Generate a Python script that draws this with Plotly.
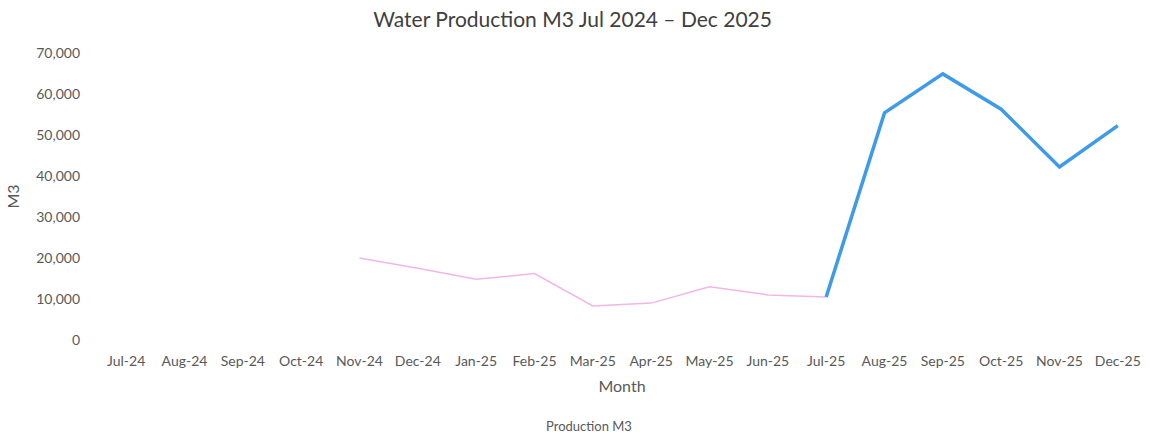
import plotly.graph_objects as go

months = ["Jul-24", "Aug-24", "Sep-24", "Oct-24", "Nov-24", "Dec-24", "Jan-25", "Feb-25",
          "Mar-25", "Apr-25", "May-25", "Jun-25", "Jul-25", "Aug-25", "Sep-25", "Oct-25",
          "Nov-25", "Dec-25"]
production = [None, None, None, None, 20000, 17500, 14800, 16200,
              8300, 9000, 13000, 11000, 10500, 55400, 64900, 56300,
              42200, 52300]

split = months.index("Jul-25")
early_x = months[:split + 1]
early_y = production[:split + 1]
late_x = months[split:]
late_y = production[split:]

fig = go.Figure()
fig.add_trace(go.Scatter(x=early_x, y=early_y, mode="lines", name="Production M3",
                         line=dict(color="#f2b6e6", width=1.5), showlegend=False,
                         connectgaps=False))
fig.add_trace(go.Scatter(x=late_x, y=late_y, mode="lines", name="Production M3",
                         line=dict(color="#3d9be9", width=3.5), showlegend=False))

font_family = "Lato, 'Open Sans', sans-serif"
fig.update_layout(
    width=1171, height=437,
    margin=dict(l=97, r=24, t=53, b=97),
    paper_bgcolor="white", plot_bgcolor="white",
    font=dict(family=font_family, color="#595959", size=14),
    title=dict(text="Water Production M3 Jul 2024 \u2013 Dec 2025", x=0.489, xanchor="center",
               y=0.955, yanchor="middle", font=dict(size=21, color="#404040", family=font_family)),
    xaxis=dict(type="category", categoryorder="array", categoryarray=months,
               range=[-0.5, 17.5], showgrid=False, zeroline=False, showline=False,
               ticks="", ticklabelstandoff=11, tickfont=dict(size=14, color="#595959"),
               title=dict(text="Month", font=dict(size=16, color="#595959"), standoff=12)),
    yaxis=dict(range=[0, 70000], dtick=10000, tickformat=",", showgrid=False,
               zeroline=False, showline=False, ticks="", ticklabelstandoff=16,
               tickfont=dict(size=14, color="#595959"),
               title=dict(text="M3", font=dict(size=16, color="#595959"), standoff=12)),
    annotations=[dict(text="Production M3", x=0.469, xref="paper", y=-0.3, yref="paper",
                      xanchor="center", yanchor="middle", showarrow=False,
                      font=dict(size=13, color="#595959"))],
)

fig.write_html("out.html")
